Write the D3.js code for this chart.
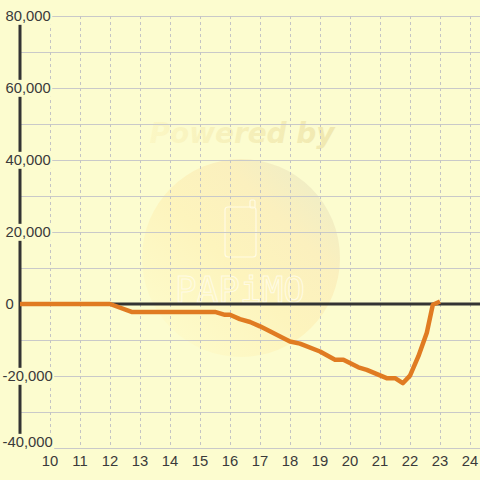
<!DOCTYPE html>
<html>
<head>
<meta charset="utf-8">
<script src="https://cdn.jsdelivr.net/npm/d3@7"></script>
<style>
html,body{margin:0;padding:0;background:#fcfccf;}
svg{display:block;}
</style>
</head>
<body>
<svg id="chart" width="480" height="480"></svg>
<script>
// ---- data ----
const hours = [9, 12, 12.72, 15.5, 15.83, 16.0, 16.33, 16.67, 17.0, 17.33, 17.67, 18.0, 18.33, 19.0, 19.5, 19.78, 20.28, 20.56, 21.22, 21.5, 21.76, 22.0, 22.28, 22.56, 22.76, 23.0];
const values = [0, 0, -2200, -2200, -3000, -3000, -4200, -5000, -6200, -7600, -9000, -10400, -11000, -13200, -15500, -15500, -17600, -18300, -20600, -20600, -22000, -19900, -14500, -8000, -200, 700];
const xTicks = [10, 11, 12, 13, 14, 15, 16, 17, 18, 19, 20, 21, 22, 23, 24];
const yGrid = [-40000, -30000, -20000, -10000, 0, 10000, 20000, 30000, 40000, 50000, 60000, 70000, 80000];
const yLabels = [-40000, -20000, 0, 20000, 40000, 60000, 80000];

const W = 480, H = 480;
const svg = d3.select("#chart");
const x = d3.scaleLinear().domain([9, 24.333]).range([20, 480]);
const y = d3.scaleLinear().domain([-40000, 80000]).range([448, 16]);
const fmt = v => d3.format(",")(v).replace("\u2212", "-");

// background
svg.append("rect").attr("width", W).attr("height", H).attr("fill", "#fcfccf");

// watermark
const defs = svg.append("defs");
const g1 = defs.append("linearGradient").attr("id", "wmCircle")
  .attr("x1", 0.1).attr("y1", 0.9).attr("x2", 0.9).attr("y2", 0.1);
g1.append("stop").attr("offset", "0").attr("stop-color", "#fdfbca");
g1.append("stop").attr("offset", "0.45").attr("stop-color", "#fdf4bd");
g1.append("stop").attr("offset", "0.75").attr("stop-color", "#fbf0be");
g1.append("stop").attr("offset", "1").attr("stop-color", "#efedc6");
const g2 = defs.append("linearGradient").attr("id", "wmText")
  .attr("x1", 0).attr("y1", 0).attr("x2", 1).attr("y2", 0);
g2.append("stop").attr("offset", "0").attr("stop-color", "#fbf7c4");
g2.append("stop").attr("offset", "1").attr("stop-color", "#f0e8b0");

const wm = svg.append("g");
wm.append("circle").attr("cx", 241).attr("cy", 258).attr("r", 99).attr("fill", "url(#wmCircle)");
wm.append("text").attr("x", 242).attr("y", 143).attr("text-anchor", "middle")
  .attr("font-family", "DejaVu Sans, sans-serif").attr("font-weight", "bold").attr("font-style", "italic")
  .attr("font-size", 28).attr("textLength", 185).attr("fill", "url(#wmText)").text("Powered by");
wm.append("rect").attr("x", 225).attr("y", 207).attr("width", 31).attr("height", 50).attr("rx", 3)
  .attr("fill", "none").attr("stroke", "#fffbe4").attr("stroke-width", 1.2);
wm.append("rect").attr("x", 250).attr("y", 200).attr("width", 5).attr("height", 8).attr("rx", 1.5)
  .attr("fill", "none").attr("stroke", "#fffbe4").attr("stroke-width", 1.2);
wm.append("text").attr("x", 240).attr("y", 302).attr("text-anchor", "middle")
  .attr("font-family", "DejaVu Sans Mono, monospace").attr("font-size", 36)
  .attr("textLength", 130).attr("fill", "none").attr("stroke", "#fffbe4").attr("stroke-width", 1)
  .text("PAPiMO");

// grid
svg.append("g").selectAll("line").data(yGrid).join("line")
  .attr("x1", 20).attr("x2", 480).attr("y1", d => y(d)).attr("y2", d => y(d))
  .attr("stroke", "#c9c9c9").attr("stroke-width", 1).attr("shape-rendering", "crispEdges");
svg.append("g").selectAll("line").data(xTicks).join("line")
  .attr("x1", d => x(d)).attr("x2", d => x(d)).attr("y1", y(80000)).attr("y2", y(-40000))
  .attr("stroke", "#c4c4c4").attr("stroke-width", 1).attr("stroke-dasharray", "3,3")
  .attr("shape-rendering", "crispEdges");

// zero line and y axis line
svg.append("line").attr("x1", 20).attr("x2", 480).attr("y1", y(0)).attr("y2", y(0))
  .attr("stroke", "#333").attr("stroke-width", 3);
svg.append("line").attr("x1", x(9)).attr("x2", x(9)).attr("y1", y(80000)).attr("y2", y(-40000))
  .attr("stroke", "#333").attr("stroke-width", 3);

// y labels with background
const yl = svg.append("g").selectAll("g").data(yLabels).join("g");
const ytxt = yl.append("text")
  .attr("x", d => d < 0 ? 2.5 : 5.5)
  .attr("y", d => d === -40000 ? y(d) - 6 : y(d)).attr("dy", "0.36em")
  .attr("text-anchor", "start").attr("font-family", "Liberation Sans, Arial, sans-serif")
  .attr("font-size", 14.8).attr("fill", "#3a3a3a").text(d => fmt(d));
ytxt.each(function() {
  const b = this.getBBox();
  d3.select(this.parentNode).insert("rect", "text")
    .attr("x", b.x - 1).attr("y", b.y - 0.5).attr("width", b.width + 2.5).attr("height", b.height + 1)
    .attr("fill", "#fcfccf");
});

// x labels
svg.append("g").selectAll("text").data(xTicks).join("text")
  .attr("x", d => x(d)).attr("y", 466).attr("text-anchor", "middle")
  .attr("font-family", "Liberation Sans, Arial, sans-serif").attr("font-size", 14.8)
  .attr("fill", "#3a3a3a").text(d => d);

// data line
const pts = hours.map((h, i) => [h, values[i]]);
svg.append("path").datum(pts)
  .attr("d", d3.line().x(d => x(d[0])).y(d => y(d[1])))
  .attr("fill", "none").attr("stroke", "#e07b22").attr("stroke-width", 4.5)
  .attr("stroke-linejoin", "round").attr("stroke-linecap", "butt");
</script>
</body>
</html>
